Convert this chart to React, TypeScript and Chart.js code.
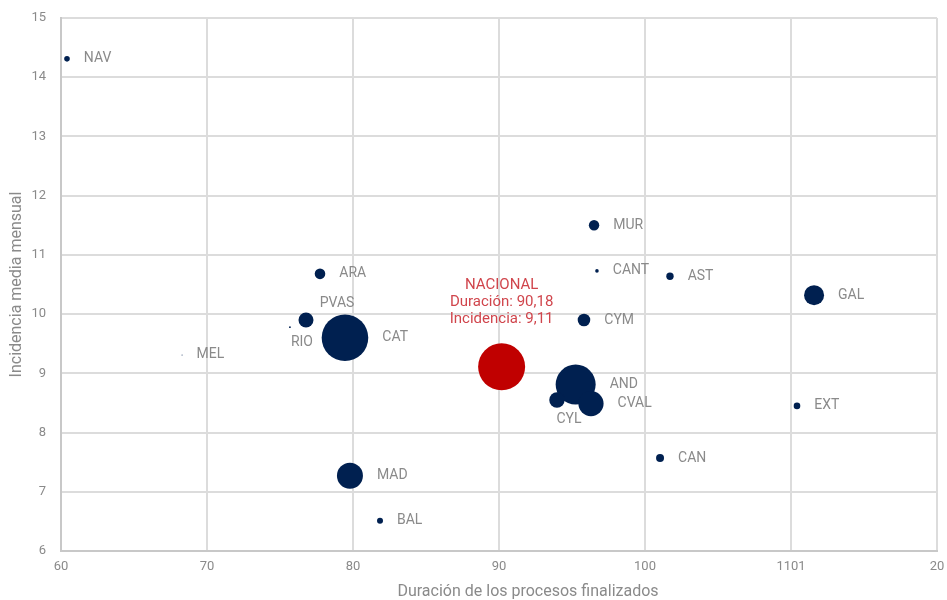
import React, { useEffect, useRef } from "react";
import { Chart, registerables } from "chart.js";

Chart.register(...registerables);

const regions = ["NAV", "MUR", "CANT", "AST", "ARA", "PVAS", "RIO", "CAT", "MEL", "CYM", "AND", "CYL", "CVAL", "GAL", "EXT", "CAN", "MAD", "BAL"];
const duracion = [60.41, 96.51, 96.71, 101.71, 77.74, 76.78, 75.68, 79.45, 68.29, 95.82, 95.25, 93.97, 96.3, 111.58, 110.41, 101.03, 79.79, 81.85];
const incidencia = [14.31, 11.5, 10.73, 10.64, 10.68, 9.9, 9.78, 9.6, 9.31, 9.9, 8.81, 8.55, 8.49, 10.32, 8.45, 7.57, 7.27, 6.51];
const tamano = [2.8, 5.2, 1.8, 3.7, 5.3, 7.5, 0.9, 23.3, 0.5, 6.3, 20, 7.7, 12.6, 10, 3.3, 4, 13, 3];

const nacionalDuracion = 90.18;
const nacionalIncidencia = 9.11;
const nacionalTamano = 23.5;
const nacionalLines = ["NACIONAL", "Duración: 90,18", "Incidencia: 9,11"];

const xTickValues = [60, 70, 80, 90, 100, 110, 120];
const xTickLabels = ["60", "70", "80", "90", "100", "1101", "20"];
const xTitle = "Duración de los procesos finalizados";
const yTitle = "Incidencia media mensual";

const NAVY = "#002050";
const RED = "#c00000";
const LABEL_GRAY = "#8a8a8a";
const FONT = "Roboto, 'DejaVu Sans', sans-serif";

// label placement tweaks (styling, not data)
const labelPlacement: Record<string, { dx: number; dy: number; align: CanvasTextAlign }> = {
  PVAS: { dx: 31, dy: -17, align: "center" },
  RIO: { dx: 12, dy: 15, align: "center" },
  CYL: { dx: 12, dy: 20, align: "center" },
};

const labelPlugin = {
  id: "bubbleLabels",
  afterDatasetsDraw(chart: any) {
    const ctx = chart.ctx;
    ctx.save();
    ctx.font = `14px ${FONT}`;
    ctx.textBaseline = "middle";
    const meta = chart.getDatasetMeta(0);
    meta.data.forEach((el: any, i: number) => {
      const name = regions[i];
      const r = tamano[i];
      const p = labelPlacement[name];
      ctx.fillStyle = LABEL_GRAY;
      if (p) {
        ctx.textAlign = p.align;
        ctx.fillText(name, el.x + p.dx, el.y + p.dy);
      } else {
        ctx.textAlign = "left";
        ctx.fillText(name, el.x + r + 14, el.y);
      }
    });
    const m2 = chart.getDatasetMeta(1);
    const n = m2.data[0];
    if (n) {
      ctx.font = `15px ${FONT}`;
      ctx.fillStyle = "#d0454c";
      ctx.textAlign = "center";
      nacionalLines.forEach((t, k) => {
        ctx.fillText(t, n.x, n.y - 82 + k * 17);
      });
    }
    // x axis title (offset to the right as in the original)
    const a = chart.chartArea;
    ctx.font = `16px ${FONT}`;
    ctx.fillStyle = LABEL_GRAY;
    ctx.textAlign = "center";
    ctx.fillText(xTitle, (a.left + a.right) / 2 + 29, chart.height - 8);
    ctx.restore();
  },
};

export default function App() {
  const ref = useRef<HTMLCanvasElement | null>(null);
  useEffect(() => {
    if (!ref.current) return;
    const chart = new Chart(ref.current, {
      type: "bubble",
      data: {
        datasets: [
          {
            label: "CCAA",
            data: regions.map((_, i) => ({ x: duracion[i], y: incidencia[i], r: tamano[i] })),
            backgroundColor: NAVY,
            borderWidth: 0,
            hoverBorderWidth: 0,
          },
          {
            label: "NACIONAL",
            data: [{ x: nacionalDuracion, y: nacionalIncidencia, r: nacionalTamano }],
            backgroundColor: RED,
            borderWidth: 0,
            hoverBorderWidth: 0,
          },
        ],
      },
      options: {
        animation: false,
        responsive: false,
        devicePixelRatio: 1,
        layout: { autoPadding: false, padding: { left: 0, right: 10, top: 18, bottom: 0 } },
        plugins: { legend: { display: false }, tooltip: { enabled: false } },
        scales: {
          x: {
            type: "linear",
            min: 60,
            max: 120,
            afterBuildTicks: (scale: any) => {
              scale.ticks = xTickValues.map((v) => ({ value: v }));
            },
            afterFit: (scale: any) => {
              scale.height = 49;
              scale.paddingLeft = 0;
              scale.paddingRight = 0;
            },
            ticks: {
              color: LABEL_GRAY,
              font: { family: FONT, size: 13 },
              padding: 8,
              maxRotation: 0,
              callback: (v: any) => {
                const idx = xTickValues.indexOf(Number(v));
                return idx >= 0 ? xTickLabels[idx] : String(v);
              },
            },
            grid: { color: "#dcdcdc", lineWidth: 2, drawTicks: false },
            border: { color: "#c8c8c8", width: 2 },
            title: { display: false, text: xTitle },
          },
          y: {
            type: "linear",
            min: 6,
            max: 15,
            afterFit: (scale: any) => {
              scale.width = 61;
              scale.paddingTop = 0;
              scale.paddingBottom = 0;
            },
            ticks: {
              stepSize: 1,
              color: LABEL_GRAY,
              font: { family: FONT, size: 13 },
              padding: 15,
            },
            grid: { color: "#dcdcdc", lineWidth: 2, drawTicks: false },
            border: { color: "#c8c8c8", width: 2 },
            title: {
              display: true,
              text: yTitle,
              color: LABEL_GRAY,
              font: { family: FONT, size: 16 },
              padding: { top: 7, bottom: 0 },
            },
          },
        },
      },
      plugins: [labelPlugin],
    });
    return () => chart.destroy();
  }, []);
  return (
    <div style={{ position: "fixed", left: 0, top: 0, width: 947, height: 600, background: "#fff" }}>
      <canvas ref={ref} width={947} height={600} style={{ display: "block", width: 947, height: 600 }} />
    </div>
  );
}
